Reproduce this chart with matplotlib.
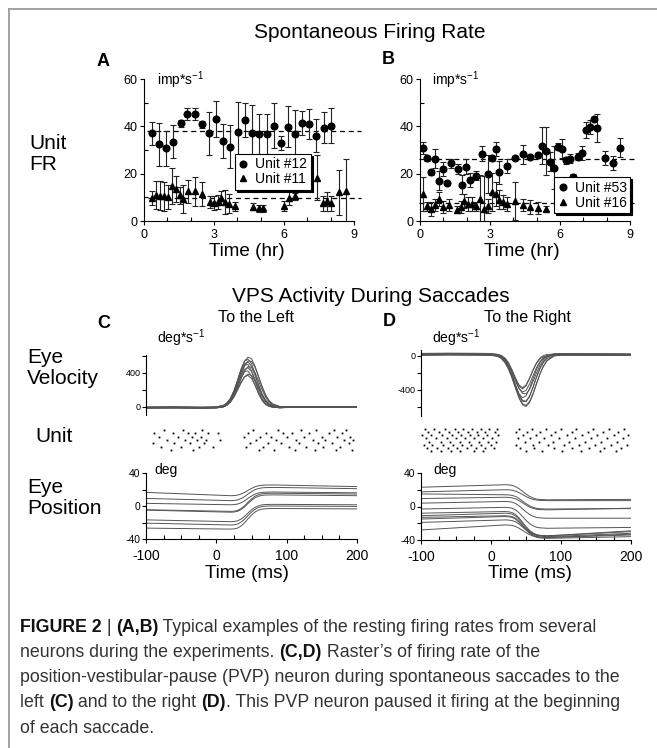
import matplotlib
matplotlib.use('Agg')
import matplotlib.pyplot as plt
from matplotlib.lines import Line2D

plt.rcParams['font.family'] = ['Liberation Sans', 'DejaVu Sans']
plt.rcParams['mathtext.fontset'] = 'custom'
plt.rcParams['mathtext.rm'] = 'Liberation Sans'
plt.rcParams['mathtext.bf'] = 'Liberation Sans:bold'
plt.rcParams['axes.unicode_minus'] = False

# ---- A: spontaneous rate, units #12 / #11 ----
a_t12 = [0.33, 0.64, 0.94, 1.25, 1.57, 1.86, 2.17, 2.48, 2.78, 3.09, 3.40, 3.70, 4.01,
         4.33, 4.62, 4.94, 5.25, 5.56, 5.86, 6.16, 6.47, 6.79, 7.09, 7.39, 7.70, 8.02]
a_fr12 = [37.0, 32.4, 30.7, 33.5, 41.3, 45.1, 45.1, 40.8, 37.0, 43.0, 33.8, 31.4, 37.7,
          42.7, 37.0, 36.8, 36.8, 40.3, 32.8, 39.9, 36.8, 41.5, 41.0, 36.1, 39.4, 40.3]
a_err12 = [5, 9, 7.5, 7, 1.5, 2.5, 2.5, 1.5, 9, 7.5, 7, 9, 12.5,
           7, 12, 8.5, 8.5, 9.5, 3, 8.5, 10, 5, 6.5, 7, 6.5, 7.5]
a_t11 = [0.35, 0.51, 0.68, 0.85, 1.01, 1.20, 1.38, 1.54, 1.68, 1.87, 2.18, 2.48, 2.82,
         3.00, 3.15, 3.32, 3.49, 3.65, 3.92, 4.66, 4.91, 5.08, 6.00, 6.21, 6.45, 7.42,
         7.66, 7.84, 8.02, 8.34, 8.67]
a_fr11 = [9.6, 11.1, 10.7, 10.4, 10.1, 14.7, 13.5, 10.8, 9.4, 12.5, 12.5, 11.5, 8.0,
          7.6, 8.0, 9.7, 8.1, 7.3, 6.2, 6.0, 5.4, 5.4, 6.4, 9.9, 10.5, 18.2,
          7.4, 8.4, 7.4, 12.2, 12.7]
a_err11 = [3, 6, 6, 6, 5, 7.5, 5.5, 3.5, 6, 5, 6, 5, 2.5,
           3, 3, 3, 5, 4, 2, 1.5, 1.5, 1.5, 2, 3, 1.5, 9.5,
           3, 4, 3, 9.5, 13.5]
a_mean12, a_mean11 = 38.0, 9.6

# ---- B: spontaneous rate, units #53 / #16 ----
b_t53 = [0.14, 0.31, 0.49, 0.63, 0.80, 0.97, 1.14, 1.32, 1.64, 1.81, 1.99, 2.14, 2.40, 2.67,
         2.91, 3.09, 3.24, 3.40, 3.74, 4.06, 4.40, 4.73, 5.07, 5.24, 5.41, 5.57, 5.73, 5.91,
         6.09, 6.24, 6.42, 6.57, 6.76, 6.93, 7.10, 7.29, 7.44, 7.59, 7.93, 8.26, 8.59]
b_fr53 = [31.0, 26.5, 20.5, 26.3, 17.0, 22.0, 15.9, 24.4, 21.9, 15.4, 23.0, 17.4, 19.2, 28.5,
          19.9, 26.5, 30.5, 20.5, 23.2, 26.7, 28.1, 27.0, 27.8, 31.9, 29.6, 25.0, 22.6, 31.3,
          30.5, 25.6, 26.3, 18.8, 27.2, 28.6, 38.5, 39.6, 43.0, 39.2, 26.5, 24.4, 31.0]
b_err53 = [2.5, 1, 1, 4, 4, 3, 0.5, 2, 2, 4, 3, 3, 2, 3,
           8, 1, 3, 5, 3, 0.5, 4, 1, 0.5, 8, 10, 4, 9, 1.5,
           4, 1.5, 2, 1, 1.5, 3, 3.5, 3, 0.5, 6, 3, 3, 4]
b_t16 = [0.14, 0.31, 0.49, 0.66, 0.81, 0.99, 1.24, 1.57, 1.74, 1.90, 2.07, 2.24, 2.40,
         2.57, 2.74, 2.91, 3.09, 3.24, 3.40, 3.57, 3.74, 4.06, 4.40, 4.71, 5.04, 5.40]
b_fr16 = [11.4, 6.2, 5.2, 6.6, 9.4, 5.9, 6.9, 4.8, 5.9, 8.3, 7.2, 7.2, 6.2,
          9.4, 5.2, 6.5, 12.2, 11.4, 9.0, 7.9, 7.3, 8.4, 6.6, 5.9, 5.5, 5.2]
b_err16 = [7, 2, 3, 2.5, 3, 2.5, 2.5, 1.5, 2.5, 3, 3, 3, 2,
           10, 14, 3, 8, 5, 4, 3, 3, 8, 2.5, 3, 2.5, 1]
b_mean53, b_mean16 = 26.0, 7.6

# ---- C/D: eye velocity (deg/s) ----
vel_t = [-100, -60, -20, 0, 10, 15, 20, 25, 30, 35, 40, 45, 50, 55, 60, 65, 70, 75, 80, 90, 100, 150, 200]
vel_left = [
    [-8, -5, -10, -6, 14, 43, 98, 185, 301, 429, 535, 585, 566, 479, 356, 232, 132, 65, 26, -2, -5, -4, -3],
    [-12, -10, -14, -10, 7, 36, 93, 186, 310, 441, 537, 561, 508, 394, 263, 150, 73, 29, 9, -3, -6, -5, -4],
    [-15, -14, -16, -13, 2, 26, 72, 148, 253, 373, 479, 540, 535, 465, 356, 239, 140, 72, 32, 2, -8, -6, -5],
    [-5, -3, -6, -3, 13, 39, 92, 179, 295, 416, 505, 528, 477, 369, 246, 140, 67, 26, 7, -4, -2, -3, -2],
    [-10, -8, -12, -9, 3, 24, 71, 157, 276, 403, 489, 498, 425, 303, 179, 86, 31, 5, -6, -10, -8, -6, -5],
    [-18, -16, -20, -16, -3, 18, 59, 126, 219, 325, 419, 472, 466, 402, 304, 198, 110, 49, 13, -14, -12, -8, -6],
    [-8, -6, -9, -7, 8, 31, 78, 154, 255, 362, 440, 461, 415, 321, 212, 119, 55, 19, 2, -7, -5, -4, -4],
    [-12, -10, -13, -11, -2, 17, 58, 131, 233, 340, 414, 422, 359, 255, 149, 70, 23, 1, -8, -11, -9, -7, -6],
    [-20, -18, -22, -18, -5, 15, 52, 112, 191, 277, 349, 384, 369, 309, 226, 141, 73, 27, 1, -17, -10, -8, -7],
    [-15, -13, -16, -14, -2, 17, 55, 117, 201, 288, 352, 369, 332, 254, 166, 89, 37, 7, -7, -14, -9, -7, -6],
]
vel_right = [
    [15, 20, 18, 12, -6, -32, -80, -156, -261, -383, -499, -578, -599, -553, -455, -333, -216, -122, -58, 0, 13, 12, 10],
    [8, 12, 10, 5, -12, -38, -84, -157, -259, -377, -489, -566, -586, -541, -447, -329, -215, -124, -62, -6, 6, 7, 6],
    [20, 24, 22, 18, 6, -15, -57, -128, -229, -351, -464, -537, -544, -483, -375, -252, -146, -69, -22, 14, 20, 18, 15],
    [5, 8, 6, 3, -9, -29, -69, -136, -233, -349, -458, -527, -535, -476, -373, -256, -154, -80, -35, -1, 4, 5, 4],
    [12, 16, 14, 11, 1, -18, -57, -126, -227, -344, -447, -496, -475, -389, -274, -163, -81, -30, -5, 10, 12, 11, 9],
    [25, 28, 26, 24, 13, -5, -40, -99, -185, -287, -383, -444, -450, -398, -308, -204, -115, -50, -10, 20, 24, 22, 20],
    [10, 14, 12, 9, 0, -16, -49, -109, -196, -298, -386, -429, -410, -336, -236, -141, -70, -27, -5, 9, 10, 9, 8],
    [18, 22, 20, 18, 12, 0, -29, -84, -170, -272, -358, -392, -358, -272, -170, -84, -29, 0, 12, 18, 18, 16, 14],
    [3, 6, 4, 3, -2, -14, -40, -92, -171, -266, -345, -377, -345, -266, -171, -92, -40, -14, -2, 3, 4, 3, 2],
]

# ---- C/D: unit spike times (ms), one list per trial ----
spikes_left = [
    [-75, -48, -20, 52, 88, 120, 142, 168, 185],
    [-88, -62, -40, -30, -12, 2, 45, 70, 95, 108, 132, 160, 178],
    [-82, -55, -35, -22, 40, 62, 78, 100, 125, 150, 172, 190],
    [-70, -45, -28, -15, 5, 56, 85, 113, 138, 155, 182, 195],
    [-90, -60, -38, -18, 48, 74, 92, 118, 145, 165, 188],
    [-78, -50, -25, -5, 42, 67, 103, 128, 152, 176],
    [-65, -33, 60, 82, 112, 140, 170, 193],
]
spikes_right = [
    [-95, -82, -66, -52, -40, -27, -15, -3, 8, 40, 58, 78, 100, 122, 145, 168, 190],
    [-90, -75, -60, -47, -33, -20, -8, 5, 36, 52, 70, 92, 115, 138, 160, 182],
    [-98, -86, -70, -56, -43, -30, -18, -6, 10, 45, 64, 85, 108, 130, 152, 176, 196],
    [-93, -79, -63, -50, -37, -24, -11, 2, 38, 55, 75, 97, 120, 143, 165, 188],
    [-88, -72, -58, -44, -31, -17, -4, 7, 48, 68, 88, 111, 134, 157, 180],
    [-96, -84, -68, -54, -41, -28, -14, 0, 35, 60, 82, 104, 126, 148, 172, 194],
    [-91, -77, -62, -49, -35, -22, -9, 4, 42, 62, 90, 116, 140, 162, 185],
    [-86, -71, -57, -45, -25, -12, 50, 73, 101, 128, 155, 178],
]

# ---- C/D: eye position (deg) ----
pos_t = [-100, 20, 25, 30, 35, 40, 45, 50, 55, 60, 65, 70, 80, 100, 200]
pos_left = [
    [16.5, 12.5, 12.6, 13.2, 14.5, 16.4, 19.0, 21.3, 23.3, 24.5, 25.1, 25.4, 25.5, 25.2, 23.5],
    [9.2, 6.5, 6.7, 7.3, 8.9, 11.3, 14.5, 17.4, 19.8, 21.2, 22.0, 22.3, 22.5, 22.3, 21.0],
    [3.2, 1.5, 1.7, 2.3, 3.8, 6.2, 9.3, 12.0, 14.4, 15.8, 16.5, 16.8, 17.0, 16.8, 16.0],
    [-4.5, -6.5, -6.3, -5.4, -3.2, 0.1, 4.5, 8.5, 11.8, 13.7, 14.8, 15.3, 15.5, 15.3, 14.5],
    [-5.0, -7.5, -7.3, -6.5, -4.4, -1.2, 3.0, 6.8, 9.9, 11.8, 12.9, 13.3, 13.5, 13.3, 12.5],
    [-16.8, -19.0, -18.8, -18.0, -15.9, -12.7, -8.5, -4.7, -1.6, 0.3, 1.4, 1.8, 2.0, 1.9, 1.5],
    [-20.8, -23.0, -22.8, -21.9, -19.6, -16.1, -11.5, -7.4, -3.9, -1.8, -0.7, -0.2, 0.0, -0.1, -0.5],
    [-26.8, -28.0, -27.8, -26.8, -24.3, -20.5, -15.5, -11.0, -7.3, -5.0, -3.8, -3.3, -3.0, -3.1, -3.5],
]
pos_right = [
    [23, 26, 25.8, 25.3, 23.8, 21.3, 18.1, 14.8, 12.1, 10.2, 8.9, 8.4, 8.0, 8.1, 8.5],
    [17.5, 20, 19.9, 19.5, 18.4, 16.6, 14.3, 11.9, 10.0, 8.6, 7.7, 7.3, 7.0, 7.0, 7.0],
    [15, 14, 13.8, 13.3, 12.0, 9.6, 6.5, 3.5, 0.9, -1.0, -2.2, -2.7, -3.0, -2.9, -2.5],
    [9.5, 11, 10.9, 10.4, 9.2, 7.1, 4.4, 1.7, -0.6, -2.2, -3.3, -3.7, -4.0, -3.7, -2.0],
    [4, 6, 5.8, 5.2, 3.6, 0.8, -2.8, -6.4, -9.4, -11.6, -13.0, -13.6, -14.0, -14.0, -14.0],
    [-3, -1, -1.3, -2.0, -4.0, -7.5, -12.0, -16.5, -20.3, -23.0, -24.8, -25.5, -26.0, -25.8, -25.0],
    [-8, -6, -6.3, -7.2, -9.5, -13.5, -18.8, -24.0, -28.3, -31.5, -33.6, -34.4, -35.0, -34.3, -30.0],
    [-11, -8, -8.3, -9.1, -11.4, -15.3, -20.3, -25.4, -29.6, -32.6, -34.6, -35.4, -36.0, -35.4, -32.0],
    [-13, -11, -11.3, -12.0, -14.1, -17.8, -22.4, -27.1, -31.0, -33.9, -35.7, -36.5, -37.0, -36.6, -34.0],
    [-15, -12, -12.3, -13.0, -15.1, -18.8, -23.4, -28.1, -32.0, -34.9, -36.7, -37.5, -38.0, -37.7, -36.0],
    [-19, -16, -16.2, -16.8, -18.3, -20.9, -24.4, -27.8, -30.6, -32.7, -34.1, -34.6, -35.0, -34.1, -29.0],
    [-28, -22, -22.2, -22.6, -23.8, -25.9, -28.6, -31.3, -33.6, -35.2, -36.3, -36.7, -37.0, -36.4, -33.0],
]

caption = [
    [('FIGURE 2', True), (' | ', False), ('(A,B)', True),
     (' Typical examples of the resting firing rates from several', False)],
    [('neurons during the experiments. ', False), ('(C,D)', True),
     (' Raster\u2019s of firing rate of the', False)],
    [('position-vestibular-pause (PVP) neuron during spontaneous saccades to the', False)],
    [('left ', False), ('(C)', True), (' and to the right ', False), ('(D)', True),
     ('. This PVP neuron paused it firing at the beginning', False)],
    [('of each saccade.', False)],
]

W, H = 657, 748
fig = plt.figure(figsize=(W / 100, H / 100), dpi=100)
fig.patch.set_facecolor('white')


def px_axes(l, t, r, b):
    return fig.add_axes([l / W, 1 - b / H, (r - l) / W, (b - t) / H])


def label(x, y, s, size, **kw):
    return fig.text(x / W, 1 - y / H, s, fontsize=size, **kw)


# page border
fig.add_artist(Line2D([9 / W, 9 / W], [0, 1 - 9 / H], color='#9a9a9a', lw=1.3))
fig.add_artist(Line2D([9 / W, 1], [1 - 9 / H, 1 - 9 / H], color='#9a9a9a', lw=1.3))


def rate_panel(ax, t1, y1, e1, m1, lab1, t2, y2, e2, m2, lab2):
    ax.patch.set_alpha(0)
    for s in ['top', 'right']:
        ax.spines[s].set_visible(False)
    for s in ['left', 'bottom']:
        ax.spines[s].set_linewidth(0.8)
    ax.set_xlim(0, 9)
    ax.set_ylim(0, 60)
    ax.set_xticks([0, 3, 6, 9])
    ax.set_xticks(range(10), minor=True)
    ax.set_yticks([0, 20, 40, 60])
    ax.set_yticks([10, 30, 50], minor=True)
    ax.tick_params(which='major', direction='out', length=3, width=0.8, labelsize=9, pad=1.5)
    ax.tick_params(which='minor', direction='in', length=3, width=0.8)
    ax.tick_params(axis='x', which='major', pad=3)
    ax.plot([t1[0] - 0.2, 9.3], [m1, m1], color='k', lw=0.9, dashes=(4, 3), clip_on=False)
    ax.plot([t2[0] - 0.2, 9.3], [m2, m2], color='k', lw=0.9, dashes=(4, 3), clip_on=False)
    for t, y, e, mk, lab in [(t1, y1, e1, 'o', lab1), (t2, y2, e2, '^', lab2)]:
        ax.errorbar(t, y, yerr=e, fmt='none', ecolor='#222222', elinewidth=0.8,
                    capsize=2.2, capthick=0.8)
        ax.plot(t, y, mk, color='k', ms=4.8 if mk == 'o' else 4.2, label=lab)


axA = px_axes(144, 79, 354, 221)
rate_panel(axA, a_t12, a_fr12, a_err12, a_mean12, 'Unit #12',
           a_t11, a_fr11, a_err11, a_mean11, 'Unit #11')
axB = px_axes(420, 79, 630, 221)
rate_panel(axB, b_t53, b_fr53, b_err53, b_mean53, 'Unit #53',
           b_t16, b_fr16, b_err16, b_mean16, 'Unit #16')

leg_kw = dict(frameon=True, fancybox=False, edgecolor='k', framealpha=1, fontsize=10,
              handlelength=0.7, handletextpad=0.5, borderpad=0.25, labelspacing=0.05,
              borderaxespad=0, shadow={'color': 'k', 'alpha': 1, 'ox': 1.5, 'oy': -1.5})
legA = axA.legend(loc='upper left', bbox_to_anchor=(0.433, 0.472), **leg_kw)
legB = axB.legend(loc='lower right', bbox_to_anchor=(1.0, 0.056), **leg_kw)
for lg in (legA, legB):
    lg.get_frame().set_linewidth(0.8)


def trace_panel(ax, ylim, major, minor):
    ax.patch.set_alpha(0)
    for s in ['top', 'right', 'bottom']:
        ax.spines[s].set_visible(False)
    ax.spines['left'].set_linewidth(0.8)
    ax.set_xlim(-100, 200)
    ax.set_ylim(*ylim)
    ax.set_xticks([])
    ax.set_yticks(major)
    ax.set_yticks(minor, minor=True)
    ax.tick_params(axis='y', which='both', direction='out', length=3, width=0.8,
                   labelsize=6.5, pad=1)


def raster_panel(ax, trials):
    ax.set_axis_off()
    ax.set_xlim(-100, 200)
    ax.set_ylim(len(trials) - 0.5, -0.5)
    for row, times in enumerate(trials):
        ax.plot(times, [row] * len(times), 's', color='k', ms=1.3, mew=0)


def position_panel(ax, traces):
    ax.patch.set_alpha(0)
    for s in ['top', 'right']:
        ax.spines[s].set_visible(False)
    for s in ['left', 'bottom']:
        ax.spines[s].set_linewidth(0.8)
    ax.set_xlim(-100, 200)
    ax.set_ylim(-40, 40)
    ax.set_xticks([-100, 0, 100, 200])
    ax.set_xticks(range(-100, 201, 25), minor=True)
    ax.set_yticks([-40, 0, 40])
    ax.set_yticks([-20, 20], minor=True)
    ax.tick_params(which='major', direction='out', length=3, width=0.8, pad=4)
    ax.tick_params(which='minor', direction='in', length=3, width=0.8)
    ax.tick_params(axis='x', labelsize=10)
    ax.tick_params(axis='y', labelsize=7.5, pad=1)
    ax.tick_params(axis='y', which='minor', direction='out')
    for tr in traces:
        ax.plot(pos_t, tr, color='#555555', lw=0.7)


axCv = px_axes(146, 355, 357, 415)
trace_panel(axCv, (-100, 610), [0, 400], [200, 600])
for tr in vel_left:
    axCv.plot(vel_t, tr, color='#555555', lw=0.7)
axCr = px_axes(146, 428, 357, 452)
raster_panel(axCr, spikes_left)
axCp = px_axes(146, 473, 357, 539)
position_panel(axCp, pos_left)

axDv = px_axes(421, 350, 631, 416)
trace_panel(axDv, (-710, 65), [-400, 0], [-600, -200])
for tr in vel_right:
    axDv.plot(vel_t, tr, color='#555555', lw=0.7)
axDr = px_axes(421, 428, 631, 452)
raster_panel(axDr, spikes_right)
axDp = px_axes(421, 473, 631, 540)
position_panel(axDp, pos_right)

# headings and labels
label(370, 33, 'Spontaneous Firing Rate', 15, ha='center', va='center')
label(371, 296, 'VPS Activity During Saccades', 15, ha='center', va='center')
for x, y, s in [(103, 62, 'A'), (388, 60, 'B'), (104, 323, 'C'), (389, 322, 'D')]:
    label(x, y, s, 13, ha='center', va='center', fontweight='bold')
label(256, 318, 'To the Left', 11.7, ha='center', va='center')
label(527, 318, 'To the Right', 11.7, ha='center', va='center')
for x in (157, 432):
    label(x, 80, 'imp*s$^{\\mathregular{-1}}$', 10, ha='left', va='center')
    label(x, 338, 'deg*s$^{\\mathregular{-1}}$', 10, ha='left', va='center')
label(154, 470, 'deg', 10, ha='left', va='center')
label(433, 470, 'deg', 10, ha='left', va='center')
label(247, 252, 'Time (hr)', 13.6, ha='center', va='center')
label(522, 252, 'Time (hr)', 13.6, ha='center', va='center')
label(247, 573, 'Time (ms)', 13.6, ha='center', va='center')
label(530, 573, 'Time (ms)', 13.6, ha='center', va='center')
label(29, 154, 'Unit\nFR', 15, ha='left', va='center', linespacing=1.15)
label(27, 368, 'Eye\nVelocity', 15, ha='left', va='center', linespacing=1.15)
label(35, 437, 'Unit', 15, ha='left', va='center')
label(27, 498, 'Eye\nPosition', 15, ha='left', va='center', linespacing=1.15)

# caption, set run by run so bold and regular parts sit on one line
renderer = fig.canvas.get_renderer()
probe = label(20, 0, caption[2][0][0], 12)
cap_size = 12 * 600 / probe.get_window_extent(renderer).width
probe.remove()
for i, line in enumerate(caption):
    x = 20
    y = 627 + 25.3 * i
    for text, bold in line:
        t = label(x, y, text, cap_size, ha='left', va='center',
                  fontweight='bold' if bold else 'normal',
                  color='#111111' if bold else '#333333')
        x += t.get_window_extent(renderer).width

fig.savefig('out.png', dpi=100, facecolor='white')
